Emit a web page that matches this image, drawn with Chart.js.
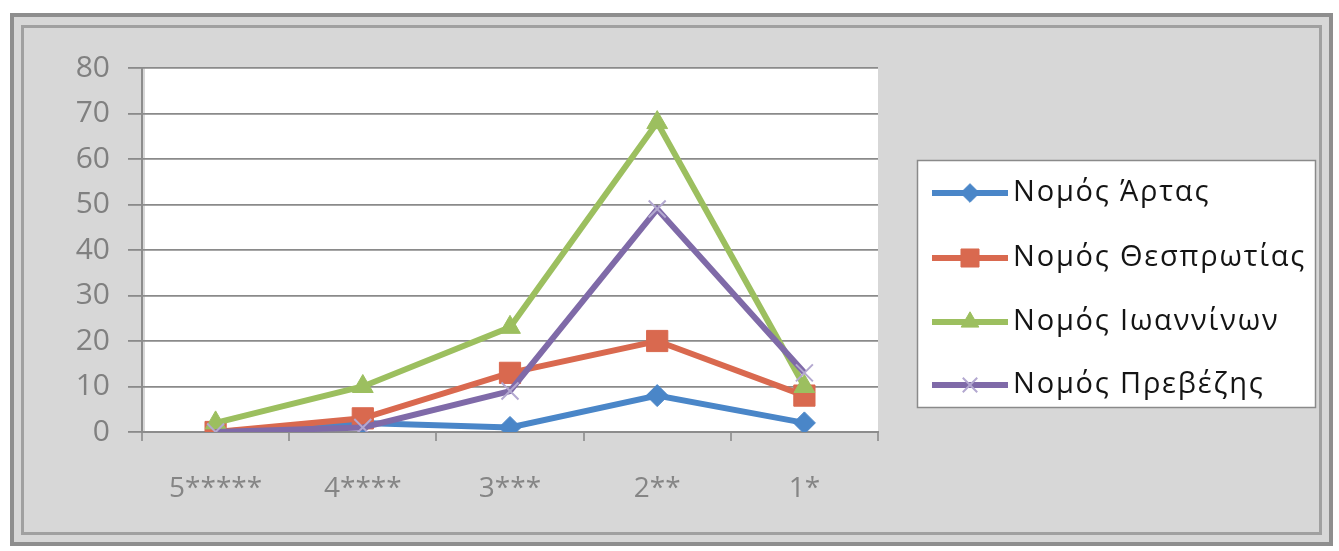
<!DOCTYPE html>
<html>
<head>
<meta charset="utf-8">
<script src="https://cdn.jsdelivr.net/npm/chart.js"></script>
<style>
  html, body { margin: 0; padding: 0; background: #ffffff; }
  #chart { display: block; }
</style>
</head>
<body>
<canvas id="chart" width="1339" height="551"></canvas>
<script>
// categories (hotel classes) and the four prefecture series
const categories = ['5*****', '4****', '3***', '2**', '1*'];
const seriesNames = ['Νομός Άρτας', 'Νομός Θεσπρωτίας', 'Νομός Ιωαννίνων', 'Νομός Πρεβέζης'];
const arta = [0, 2, 1, 8, 2];
const thesprotia = [0, 3, 13, 20, 8];
const ioannina = [2, 10, 23, 68, 10];
const preveza = [0, 1, 9, 49, 13];
const yTicks = [0, 10, 20, 30, 40, 50, 60, 70, 80];

const FONT = "'Open Sans', 'Noto Sans', sans-serif";

const colors = ['#4a86c8', '#d9694f', '#9cbf5f', '#7f6aa8'];
const markers = ['rectRot', 'rect', 'triangle', 'crossRot'];
const markerSizes = [11, 15, 12, 12];

function makeDataset(i, values) {
	return {
		label: seriesNames[i],
		data: values,
		borderColor: colors[i],
		backgroundColor: colors[i],
		borderWidth: 6,
		pointStyle: markers[i],
		pointRadius: markerSizes[i],
		pointBorderWidth: markers[i] === 'crossRot' ? 2 : 1,
		pointBorderColor: markers[i] === 'crossRot' ? '#b3a8d0' : colors[i],
		pointBackgroundColor: colors[i],
		tension: 0,
		fill: false,
		order: 4 - i,
	};
}

// background, double frame, white plot area
const backdrop = {
	id: 'backdrop',
	beforeDraw(chart) {
		const ctx = chart.ctx;
		const a = chart.chartArea;
		ctx.save();
		ctx.fillStyle = '#ffffff';
		ctx.fillRect(0, 0, chart.width, chart.height);
		ctx.fillStyle = '#d7d7d7';
		ctx.fillRect(10, 13, 1323, 533);
		ctx.strokeStyle = '#8e8e8e';
		ctx.lineWidth = 4;
		ctx.strokeRect(12, 15, 1319, 529);
		ctx.strokeStyle = '#a0a0a0';
		ctx.lineWidth = 3;
		ctx.strokeRect(22.5, 26.5, 1298, 507);
		ctx.fillStyle = '#ffffff';
		ctx.fillRect(a.left + 3, a.top, a.right - a.left - 3, a.bottom - a.top);
		ctx.restore();
	}
};

// Excel-style legend box on the right
const boxLegend = {
	id: 'boxLegend',
	afterDraw(chart) {
		const ctx = chart.ctx;
		ctx.save();
		ctx.fillStyle = '#ffffff';
		ctx.fillRect(917, 160, 398, 247);
		ctx.strokeStyle = '#8a8a8a';
		ctx.lineWidth = 1.5;
		ctx.strokeRect(917.5, 160.5, 398, 247);
		const rows = [193, 258, 322, 385];
		chart.data.datasets.forEach((ds, i) => {
			const y = rows[i];
			ctx.strokeStyle = ds.borderColor;
			ctx.lineWidth = 6;
			ctx.beginPath();
			ctx.moveTo(932, y);
			ctx.lineTo(1008, y);
			ctx.stroke();
			ctx.fillStyle = ds.pointBackgroundColor;
			ctx.strokeStyle = ds.pointBorderColor;
			ctx.lineWidth = ds.pointBorderWidth;
			Chart.helpers.drawPoint(ctx, {
				pointStyle: ds.pointStyle,
				radius: ds.pointRadius * 0.85,
				rotation: 0,
				borderWidth: ds.pointBorderWidth
			}, 970, y);
			ctx.fillStyle = '#141414';
			ctx.font = '29px ' + FONT;
			ctx.letterSpacing = '1.8px';
			ctx.textBaseline = 'middle';
			ctx.textAlign = 'left';
			ctx.fillText(ds.label, 1013, y);
			ctx.letterSpacing = '0px';
		});
		ctx.restore();
	}
};

const chart = new Chart(document.getElementById('chart').getContext('2d'), {
	type: 'line',
	data: {
		labels: categories,
		datasets: [
			makeDataset(0, arta),
			makeDataset(1, thesprotia),
			makeDataset(2, ioannina),
			makeDataset(3, preveza),
		],
	},
	options: {
		responsive: false,
		animation: false,
		layout: {
			padding: { left: 20, right: 461, top: 68, bottom: 29 },
		},
		scales: {
			x: {
				type: 'category',
				offset: true,
				grid: {
					offset: true,
					drawOnChartArea: false,
					drawTicks: true,
					tickLength: 9,
					color: '#9a9a9a',
					lineWidth: 2,
				},
				border: { display: true, color: '#8c8c8c', width: 2 },
				ticks: {
					color: '#858585',
					font: { family: FONT, size: 28 },
					padding: 31,
					maxRotation: 0,
				},
				afterFit(scale) { scale.height = 90; },
			},
			y: {
				min: 0,
				max: 80,
				afterBuildTicks(scale) {
					scale.ticks = yTicks.map(v => ({ value: v }));
				},
				ticks: {
					color: '#808080',
					font: { family: FONT, size: 30 },
					padding: 18,
				},
				grid: {
					color: '#8a8a8a',
					lineWidth: 1.8,
					tickLength: 14,
				},
				border: { display: true, color: '#8c8c8c', width: 2 },
				afterFit(scale) { scale.width = 122; },
			},
		},
		plugins: {
			legend: { display: false },
			tooltip: { enabled: false },
			title: { display: false },
		},
	},
	plugins: [backdrop, boxLegend],
});
</script>
</body>
</html>
